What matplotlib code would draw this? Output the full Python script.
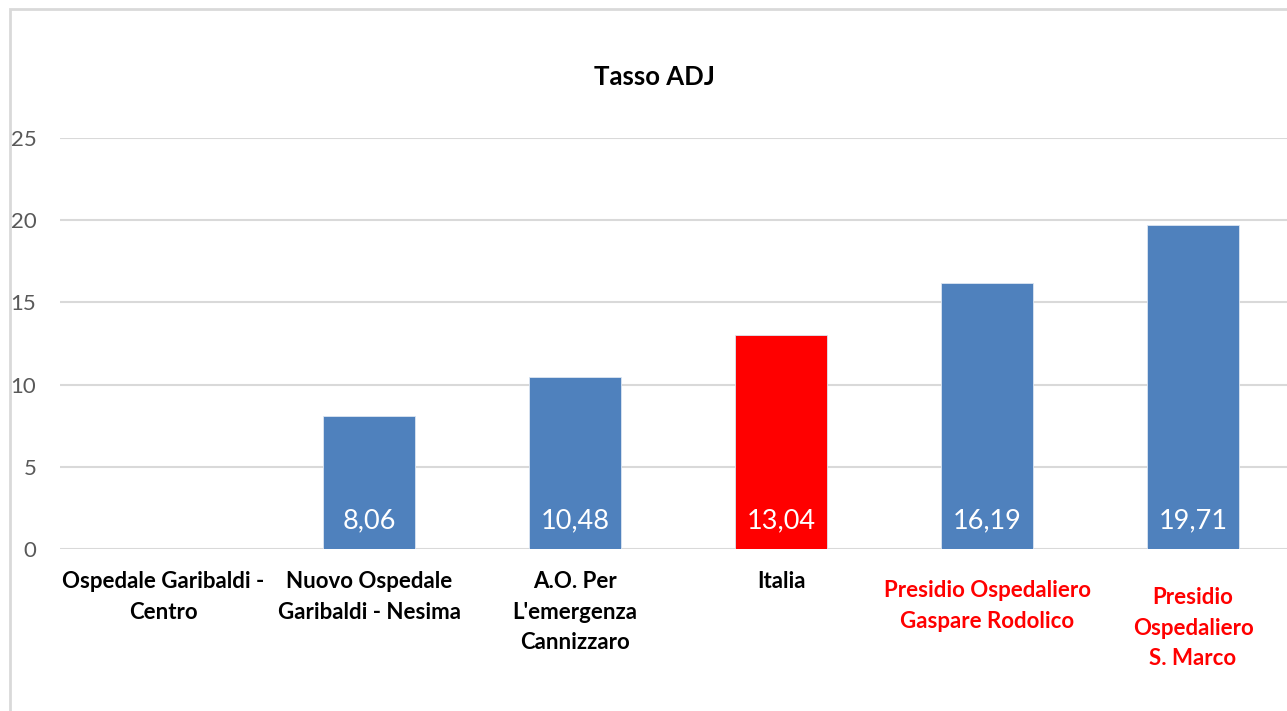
import matplotlib.pyplot as plt
from matplotlib.patches import Rectangle
from matplotlib.transforms import blended_transform_factory

plt.rcParams['font.family'] = ['Lato', 'DejaVu Sans']

# data
categories = ["Ospedale Garibaldi -\nCentro",
              "Nuovo Ospedale\nGaribaldi - Nesima",
              "A.O. Per\nL'emergenza\nCannizzaro",
              "Italia",
              "Presidio Ospedaliero\nGaspare Rodolico",
              "Presidio\nOspedaliero\nS. Marco"]
values = [None, 8.06, 10.48, 13.04, 16.19, 19.71]
value_labels = ["", "8,06", "10,48", "13,04", "16,19", "19,71"]
bar_colors = ["#4F81BD", "#4F81BD", "#4F81BD", "#FF0000", "#4F81BD", "#4F81BD"]
label_colors = ["black", "black", "black", "black", "#FF0000", "#FF0000"]
yticks = [0, 5, 10, 15, 20, 25]

# vertical offset (pixels) of each category label
label_drop = [22, 22, 22, 22, 31, 38]

fig = plt.figure(figsize=(12.87, 7.11), dpi=100)
# outer chart border (cut off on right and bottom)
fig.patches.append(Rectangle((10 / 1287, -0.05), 1.1, (711 - 9) / 711 + 0.05,
                             transform=fig.transFigure, fill=False,
                             edgecolor="#D9D9D9", linewidth=2))

ax = fig.add_axes([60 / 1287, (711 - 549) / 711, 1236 / 1287, (549 - 138) / 711])

xs = list(range(len(categories)))
for x, v, c in zip(xs, values, bar_colors):
    if v is None:
        continue
    ax.bar(x, v, width=0.45, color=c, edgecolor="#DCE6F2", linewidth=0.6, zorder=3)

for x, v, t in zip(xs, values, value_labels):
    if v is None:
        continue
    ax.text(x, 1.7, t, ha="center", va="center", color="white", fontsize=19.5, zorder=4)

ax.set_xlim(-0.5, len(categories) - 0.5)
ax.set_ylim(0, 25)
ax.set_yticks(yticks)
ax.set_yticklabels([str(t) for t in yticks], color="#595959", fontsize=16)
ax.tick_params(axis="y", length=0, pad=17)
ax.set_xticks([])
ax.grid(axis="y", color="#D9D9D9", linewidth=1.5, zorder=0)
for s in ax.spines.values():
    s.set_visible(False)

trans = blended_transform_factory(ax.transData, ax.transAxes)
for x, lab, col, d in zip(xs, categories, label_colors, label_drop):
    ax.annotate(lab, xy=(x, 0), xycoords=trans, xytext=(0, -d),
                textcoords="offset pixels", ha="center", va="top",
                fontsize=16, fontweight="bold", color=col, linespacing=1.56)

fig.text(654 / 1287, 1 - 77 / 711, "Tasso ADJ", ha="center", va="center",
         fontsize=18.5, fontweight="bold")

fig.savefig("out.png", dpi=100)
